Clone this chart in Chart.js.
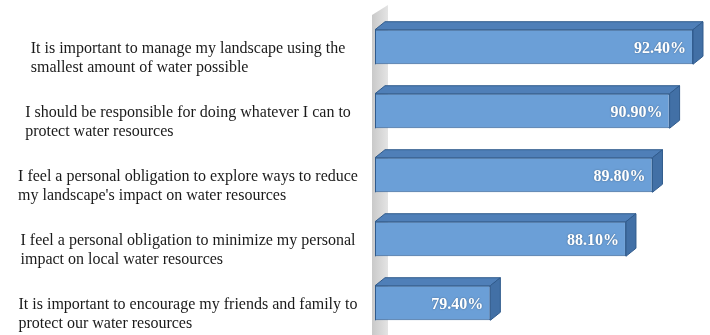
<!DOCTYPE html>
<html>
<head>
<meta charset="utf-8">
<script src="https://cdn.jsdelivr.net/npm/chart.js@4/dist/chart.umd.min.js"></script>
<style>
  html, body { margin: 0; padding: 0; background: #fff; }
  #wrap { width: 710px; height: 335px; position: relative; }
</style>
</head>
<body>
<div id="wrap"><canvas id="chart"></canvas></div>
<script>
// Statements (two lines each) and agreement share
const statements = [
    ['It is important to manage my landscape using the', 'smallest amount of water possible'],
    ['I should be responsible for doing whatever I can to', 'protect water resources'],
    ['I feel a personal obligation to explore ways to reduce', "my landscape's impact on water resources"],
    ['I feel a personal obligation to minimize my personal', 'impact on local water resources'],
    ['It is important to encourage my friends and family to', 'protect our water resources']
];
const agreePct = [92.4, 90.9, 89.8, 88.1, 79.4];

const DX = 10, DY = 8; // fake 3d depth

// grey back wall, 3d faces, value labels and category text
const fake3d = {
    id: 'fake3d',
    beforeDatasetsDraw(chart) {
        const ctx = chart.ctx, a = chart.chartArea;
        ctx.save();
        const g = ctx.createLinearGradient(a.left - 3, 0, a.left + DX + 3, 0);
        g.addColorStop(0, '#c9c9c9');
        g.addColorStop(1, '#e4e4e4');
        ctx.fillStyle = g;
        ctx.beginPath();
        ctx.moveTo(a.left - 3, a.top);
        ctx.lineTo(a.left + DX + 3, a.top - DY - 2);
        ctx.lineTo(a.left + DX + 3, chart.height);
        ctx.lineTo(a.left - 3, chart.height);
        ctx.closePath();
        ctx.fill();
        ctx.restore();
    },
    afterDatasetsDraw(chart) {
        const ctx = chart.ctx;
        const meta = chart.getDatasetMeta(0);
        const left = chart.scales.x.left;
        ctx.save();
        meta.data.forEach((bar, i) => {
            const top = bar.y - bar.height / 2, bot = bar.y + bar.height / 2;
            const l = Math.max(bar.base, left), r = bar.x;
            ctx.lineWidth = 1;
            ctx.strokeStyle = '#2f5a8c';
            // left edge of front face
            ctx.beginPath();
            ctx.moveTo(l + 0.5, top);
            ctx.lineTo(l + 0.5, bot);
            ctx.stroke();
            // top face
            ctx.fillStyle = '#4f7fb8';
            ctx.beginPath();
            ctx.moveTo(l, top);
            ctx.lineTo(l + DX, top - DY);
            ctx.lineTo(r + DX, top - DY);
            ctx.lineTo(r, top);
            ctx.closePath();
            ctx.fill();
            ctx.stroke();
            // side face
            ctx.fillStyle = '#4270a6';
            ctx.beginPath();
            ctx.moveTo(r, top);
            ctx.lineTo(r + DX, top - DY);
            ctx.lineTo(r + DX, bot - DY);
            ctx.lineTo(r, bot);
            ctx.closePath();
            ctx.fill();
            ctx.stroke();
            // value label
            ctx.font = 'bold 16px "Liberation Serif", "Times New Roman", serif';
            ctx.fillStyle = '#ffffff';
            ctx.textAlign = 'right';
            ctx.textBaseline = 'middle';
            ctx.shadowColor = 'rgba(0,0,0,0.35)';
            ctx.shadowBlur = 2;
            ctx.fillText(agreePct[i].toFixed(2) + '%', r - 7, bar.y + 2);
            ctx.shadowBlur = 0;
        });

        // category labels: left-aligned lines, block centred in left margin
        const yScale = chart.scales.y;
        ctx.font = '16px "Liberation Serif", "Times New Roman", serif';
        ctx.fillStyle = '#1a1a1a';
        ctx.textAlign = 'left';
        ctx.textBaseline = 'middle';
        statements.forEach((lines, i) => {
            const cy = yScale.getPixelForTick(i) + 11;
            const w = Math.max(...lines.map(s => ctx.measureText(s).width));
            const x0 = 188 - w / 2;
            const lh = 19;
            lines.forEach((s, k) => {
                ctx.fillText(s, x0, cy + (k - (lines.length - 1) / 2) * lh);
            });
        });
        ctx.restore();
    }
};

document.addEventListener('DOMContentLoaded', function() {
    const ctx = document.getElementById('chart').getContext('2d');
    new Chart(ctx, {
        type: 'bar',
        data: {
            labels: statements.map(l => l.join(' ')),
            datasets: [{
                data: agreePct,
                backgroundColor: '#6b9fd7',
                borderColor: '#335f93',
                borderWidth: 1,
                borderSkipped: false,
                categoryPercentage: 0.54,
                barPercentage: 1
            }]
        },
        options: {
            indexAxis: 'y',
            responsive: true,
            maintainAspectRatio: false,
            animation: false,
            layout: { padding: { left: 375, right: 10, top: 15, bottom: 0 } },
            plugins: {
                legend: { display: false },
                tooltip: { enabled: false }
            },
            scales: {
                x: {
                    min: 72,
                    max: 92.85,
                    display: false
                },
                y: {
                    display: false
                }
            }
        },
        plugins: [fake3d]
    });
});
</script>
</body>
</html>
